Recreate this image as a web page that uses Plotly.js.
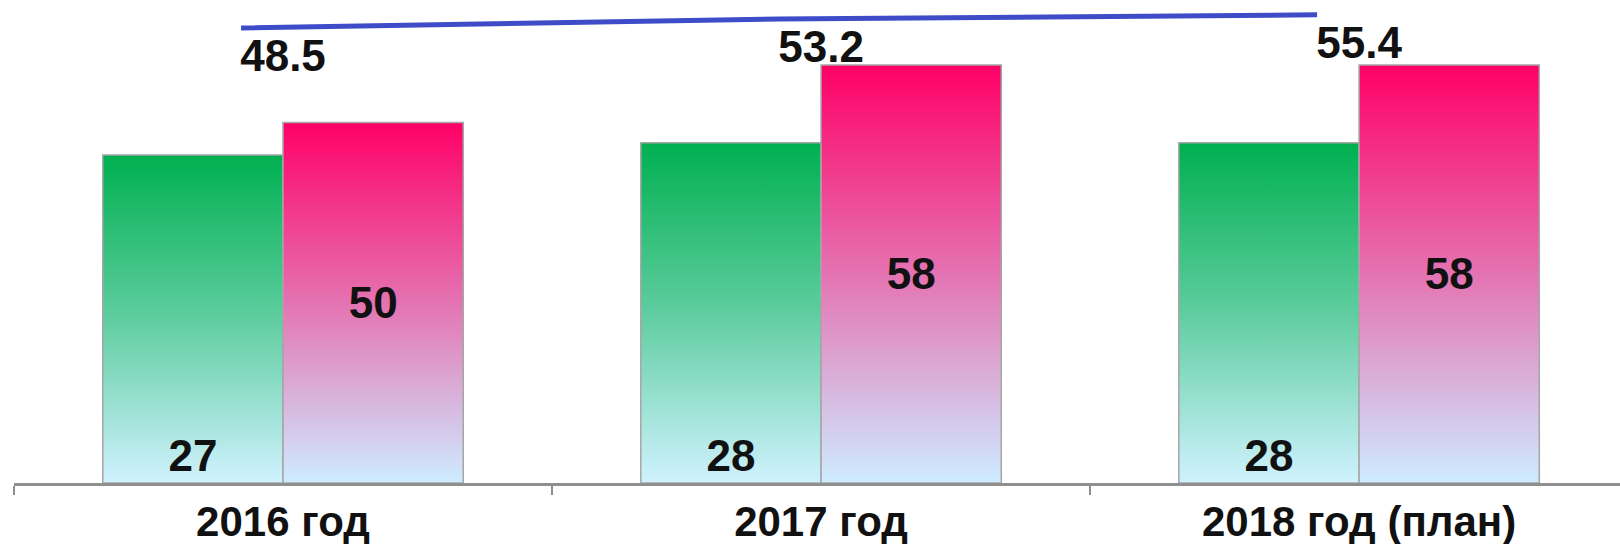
<!DOCTYPE html>
<html>
<head>
<meta charset="utf-8">
<script src="https://cdn.plot.ly/plotly-3.0.1.min.js"></script>
<style>
  html, body { margin: 0; padding: 0; background: #ffffff; }
  #chart { width: 1620px; height: 544px; }
</style>
</head>
<body>
<div id="chart"></div>
<script>
// ---- data ----
const categories = ["2016 год", "2017 год", "2018 год (план)"];
const seriesGreen = [27, 28, 28];
const seriesPink = [50, 58, 58];
const seriesLine = [48.5, 53.2, 55.4];

const FONT = "Liberation Sans, Arial, sans-serif";
const GREEN = "rgb(0, 176, 80)";
const PINK = "rgb(255, 0, 102)";

const data = [
  {
    type: "bar", x: categories, y: seriesGreen, xaxis: "x", yaxis: "y",
    offsetgroup: "g1", alignmentgroup: "a",
    marker: { color: GREEN, line: { color: "#a6a6a6", width: 1.5 } },
    text: seriesGreen.map(String), textposition: "inside", insidetextanchor: "start",
    textfont: { family: FONT, size: 44, color: "#111111", weight: "bold" },
    cliponaxis: false, hoverinfo: "skip"
  },
  {
    type: "bar", x: categories, y: seriesPink, xaxis: "x", yaxis: "y2",
    offsetgroup: "g2", alignmentgroup: "a",
    marker: { color: PINK, line: { color: "#a6a6a6", width: 1.5 } },
    text: seriesPink.map(String), textposition: "inside", insidetextanchor: "middle",
    textfont: { family: FONT, size: 44, color: "#111111", weight: "bold" },
    cliponaxis: false, hoverinfo: "skip"
  },
  {
    type: "scatter", mode: "lines", x: categories, y: seriesLine, xaxis: "x2", yaxis: "y3",
    line: { color: "rgb(62, 76, 200)", width: 5 }, cliponaxis: false, hoverinfo: "skip"
  },
  {
    type: "scatter", mode: "markers+text", x: categories, y: seriesLine, xaxis: "x", yaxis: "y3",
    marker: { size: 14, color: "rgba(0,0,0,0)" },
    text: seriesLine.map(v => v.toFixed(1)), textposition: "bottom center",
    textfont: { family: FONT, size: 44, color: "#111111", weight: "bold" },
    cliponaxis: false, hoverinfo: "skip"
  }
];

const layout = {
  width: 1620, height: 544,
  margin: { l: 14, r: 0, t: 0, b: 61 },
  paper_bgcolor: "#ffffff", plot_bgcolor: "#ffffff",
  showlegend: false,
  barmode: "group", bargap: 0.33, bargroupgap: 0,
  xaxis: {
    type: "category", range: [-0.5, 2.485],
    showline: true, linecolor: "#8f8f8f", linewidth: 3,
    ticks: "outside", tickson: "boundaries", ticklen: 9, tickwidth: 2, tickcolor: "#8f8f8f",
    tickfont: { family: FONT, size: 42, color: "#111111", weight: "bold" },
    showgrid: false, zeroline: false, fixedrange: true
  },
  xaxis2: {
    type: "category", overlaying: "x", range: [-0.422, 2.563],
    visible: false, showgrid: false, zeroline: false
  },
  yaxis: { range: [0, 39.75], visible: false, showgrid: false, zeroline: false },
  yaxis2: { range: [0, 67], overlaying: "y", visible: false, showgrid: false, zeroline: false },
  yaxis3: { range: [-191, 63.2], overlaying: "y", visible: false, showgrid: false, zeroline: false }
};

const gd = document.getElementById("chart");
const SVGNS = "http://www.w3.org/2000/svg";

function makeGrad(defs, id, stops) {
  if (document.getElementById(id)) return;
  const g = document.createElementNS(SVGNS, "linearGradient");
  g.setAttribute("id", id);
  g.setAttribute("x1", "0"); g.setAttribute("y1", "0");
  g.setAttribute("x2", "0"); g.setAttribute("y2", "1");
  stops.forEach(([off, col]) => {
    const s = document.createElementNS(SVGNS, "stop");
    s.setAttribute("offset", off);
    s.setAttribute("stop-color", col);
    g.appendChild(s);
  });
  defs.appendChild(g);
}

function applyGrad() {
  const svg = gd.querySelector("svg.main-svg");
  if (!svg) return;
  let defs = svg.querySelector("defs");
  if (!defs) { defs = document.createElementNS(SVGNS, "defs"); svg.insertBefore(defs, svg.firstChild); }
  makeGrad(defs, "gradGreen", [["0%", "rgb(0,176,80)"], ["50%", "rgb(95,205,160)"], ["100%", "rgb(208,242,255)"]]);
  makeGrad(defs, "gradPink", [["0%", "rgb(255,0,102)"], ["50%", "rgb(228,115,178)"], ["100%", "rgb(206,236,255)"]]);
  gd.querySelectorAll(".barlayer .point path").forEach(p => {
    const f = (p.style.fill || "").replace(/\s/g, "");
    if (f.indexOf("0,176,80") >= 0) p.style.fill = "url(#gradGreen)";
    else if (f.indexOf("255,0,102") >= 0) p.style.fill = "url(#gradPink)";
  });
}

Plotly.newPlot(gd, data, layout, { staticPlot: true, displayModeBar: false }).then(applyGrad);
gd.on("plotly_afterplot", applyGrad);
</script>
</body>
</html>
